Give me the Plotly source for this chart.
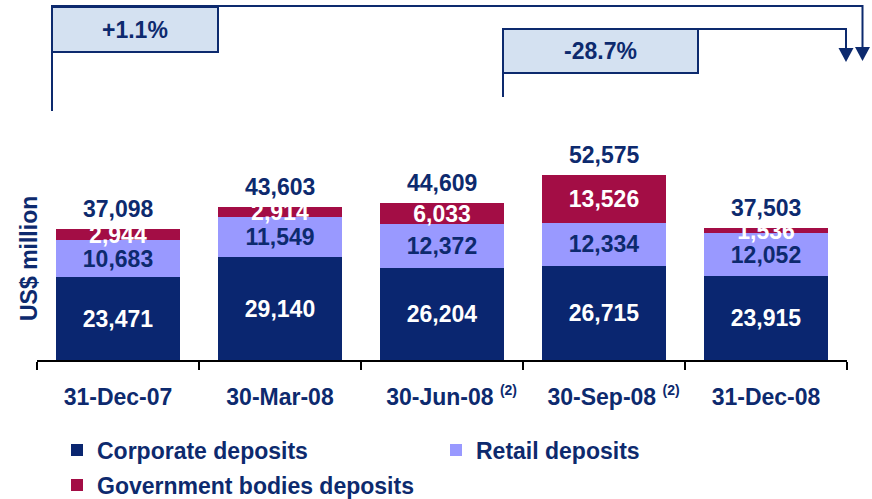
import plotly.graph_objects as go

# ---------------- data ----------------
categories = ["31-Dec-07", "30-Mar-08", "30-Jun-08", "30-Sep-08", "31-Dec-08"]
tick_labels = ["31-Dec-07", "30-Mar-08",
               "&nbsp;&nbsp;&nbsp;30-Jun-08 <sup><span style='font-size:14px'>(2)</span></sup>",
               "&nbsp;&nbsp;&nbsp;30-Sep-08 <sup><span style='font-size:14px'>(2)</span></sup>",
               "31-Dec-08"]
corporate = [23471, 29140, 26204, 26715, 23915]
retail = [10683, 11549, 12372, 12334, 12052]
government = [2944, 2914, 6033, 13526, 1536]
totals = [37098, 43603, 44609, 52575, 37503]
change_labels = ["+1.1%", "-28.7%"]

# ---------------- style ----------------
NAVY = "#0d2a6e"
C_CORP = "#0a2670"
C_RET = "#9999ff"
C_GOV = "#a30d45"
BOX_FILL = "#d4e1f1"
FONT = "Arial, Liberation Sans, sans-serif"

W, H = 872, 499
L, R, T, B = 37, 847, 0, 360              # plot area in page pixels


def px(x):
    return (x - L) / (R - L)


def py(y):
    return (B - y) / (B - T)


fig = go.Figure()

fig.add_trace(go.Bar(
    x=categories, y=corporate, name="Corporate deposits",
    marker=dict(color=C_CORP, line=dict(width=0)),
    texttemplate="%{y:,.0f}", textposition="inside", insidetextanchor="middle",
    textangle=0, constraintext="none",
    insidetextfont=dict(family=FONT, size=23, color="white", weight="bold"),
    legend="legend", hoverinfo="skip"))
fig.add_trace(go.Bar(
    x=categories, y=retail, name="Retail deposits",
    marker=dict(color=C_RET, line=dict(width=0)),
    texttemplate="%{y:,.0f}", textposition="inside", insidetextanchor="middle",
    textangle=0, constraintext="none",
    insidetextfont=dict(family=FONT, size=23, color=NAVY, weight="bold"),
    legend="legend", hoverinfo="skip"))
fig.add_trace(go.Bar(
    x=categories, y=government, name="Government bodies deposits",
    marker=dict(color=C_GOV, line=dict(width=0)),
    texttemplate="%{y:,.0f}", textposition="inside", insidetextanchor="middle",
    textangle=0, constraintext="none",
    insidetextfont=dict(family=FONT, size=23, color="white", weight="bold"),
    legend="legend2", hoverinfo="skip"))

shapes = []
# bracket 1 (31-Dec-07 -> 31-Dec-08)
shapes.append(dict(type="path", xref="paper", yref="paper",
                   path=f"M {px(52)},{py(111)} L {px(52)},{py(6)} L {px(862.5)},{py(6)} L {px(862.5)},{py(48)}",
                   line=dict(color=NAVY, width=2)))
shapes.append(dict(type="rect", xref="paper", yref="paper",
                   x0=px(52), x1=px(218), y0=py(52), y1=py(7),
                   fillcolor=BOX_FILL, line=dict(color=NAVY, width=2)))
shapes.append(dict(type="path", xref="paper", yref="paper",
                   path=f"M {px(855)},{py(47)} L {px(870)},{py(47)} L {px(862.5)},{py(61)} Z",
                   fillcolor=NAVY, line=dict(width=0)))
# bracket 2 (30-Jun-08 -> 31-Dec-08)
shapes.append(dict(type="path", xref="paper", yref="paper",
                   path=f"M {px(503)},{py(97)} L {px(503)},{py(29)} L {px(846)},{py(29)} L {px(846)},{py(49)}",
                   line=dict(color=NAVY, width=2)))
shapes.append(dict(type="rect", xref="paper", yref="paper",
                   x0=px(503), x1=px(698), y0=py(73), y1=py(29),
                   fillcolor=BOX_FILL, line=dict(color=NAVY, width=2)))
shapes.append(dict(type="path", xref="paper", yref="paper",
                   path=f"M {px(838.5)},{py(48)} L {px(853.5)},{py(48)} L {px(846)},{py(62)} Z",
                   fillcolor=NAVY, line=dict(width=0)))

bold_font = dict(family=FONT, size=23, color=NAVY, weight="bold")

annotations = [
    dict(text=change_labels[0], xref="paper", yref="paper", x=px(135), y=py(30),
         xanchor="center", yanchor="middle", showarrow=False, font=bold_font),
    dict(text=change_labels[1], xref="paper", yref="paper", x=px(600.5), y=py(51),
         xanchor="center", yanchor="middle", showarrow=False, font=bold_font),
    dict(text="US$ million", xref="paper", yref="paper", x=px(29), y=py(259),
         xanchor="center", yanchor="middle", textangle=-90, showarrow=False,
         font=bold_font),
]
# stacked totals above each bar
for cat, tot in zip(categories, totals):
    annotations.append(dict(text=f"{tot:,}", xref="x", yref="y", x=cat, y=tot,
                            xanchor="center", yanchor="bottom", yshift=5,
                            showarrow=False, font=bold_font))

fig.update_layout(
    width=W, height=H,
    margin=dict(l=L, r=W - R, t=T, b=H - B, autoexpand=False),
    barmode="stack", bargap=0.23,
    paper_bgcolor="white", plot_bgcolor="white",
    font=dict(family=FONT, color=NAVY),
    shapes=shapes, annotations=annotations,
    xaxis=dict(type="category", tickvals=categories, ticktext=tick_labels,
               range=[-0.5, 4.5], showline=True, linecolor="black", linewidth=2,
               ticks="outside", tickson="boundaries", ticklen=8, tickwidth=2,
               tickcolor="black", showgrid=False, ticklabelstandoff=15,
               tickfont=bold_font),
    yaxis=dict(range=[0, (B - T) / 0.00352], visible=False, showgrid=False,
               zeroline=False),
    legend=dict(orientation="h", x=px(57), y=py(450), xanchor="left", yanchor="middle",
                entrywidth=334, entrywidthmode="pixels", traceorder="normal",
                font=bold_font, bgcolor="rgba(0,0,0,0)", itemclick=False),
    legend2=dict(orientation="h", x=px(57), y=py(485), xanchor="left", yanchor="middle",
                 traceorder="normal", font=bold_font, bgcolor="rgba(0,0,0,0)",
                 itemclick=False),
    showlegend=True,
)

fig.write_html("out.html", config={"displayModeBar": False},
               post_script="document.body.style.margin='0';document.body.style.padding='0';")
